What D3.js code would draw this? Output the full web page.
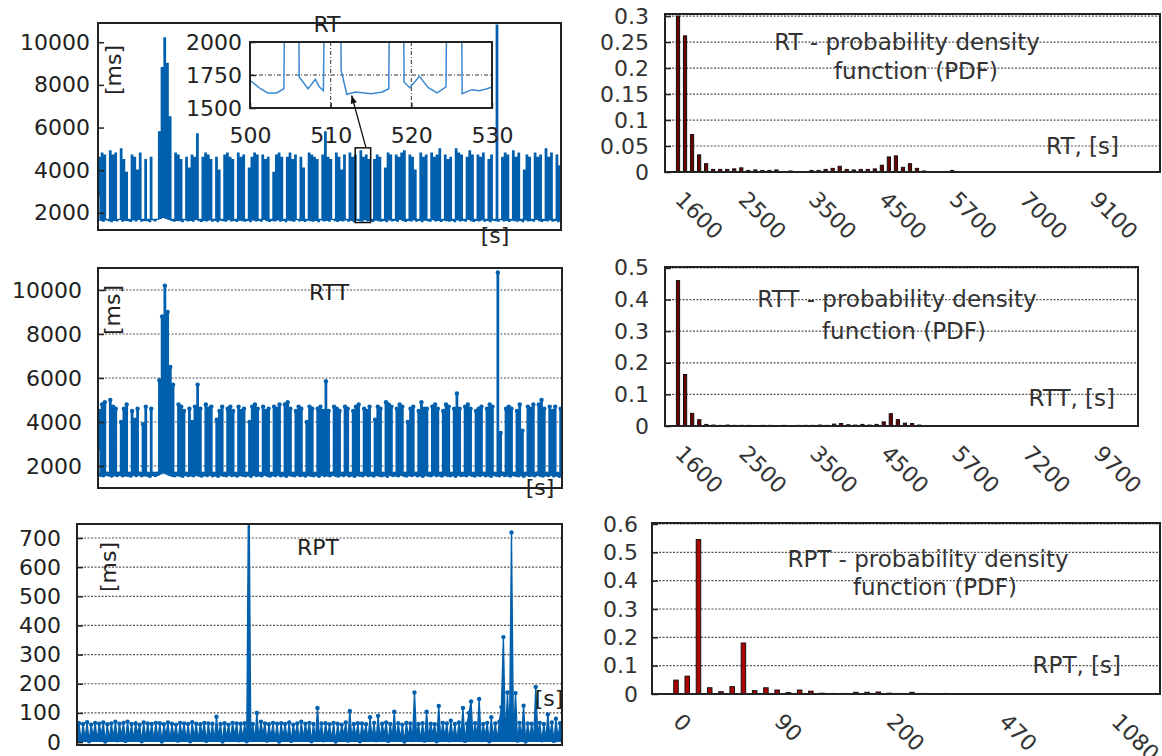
<!DOCTYPE html>
<html>
<head>
<meta charset="utf-8">
<script src="https://cdn.jsdelivr.net/npm/d3@7"></script>
<style>
  body { margin: 0; background: #fff; }
</style>
</head>
<body>
<svg id="chart" width="1162" height="756"></svg>
<script>
// ---- data ----
var seriesSeconds = 900;

// RT: one peak per spike, troughs between them (one more trough than peaks)
var rtPeak = [
  4600, 4800, 4700, 1700, 4900, 4700, 4800, 1700, 5000, 4500,
  3900, 1700, 4700, 4600, 4000, 4800, 1700, 4500, 1700, 4600,
  1700, 1700, 5800, 8800, 10200, 9000, 6500, 1700, 4800, 4700,
  4500, 1700, 4600, 4100, 4700, 4600, 5700, 1700, 4600, 4800,
  4700, 4500, 1700, 4600, 4000, 1700, 4700, 4800, 4600, 4500,
  1700, 4800, 4600, 4700, 1700, 4100, 4600, 4800, 4700, 1700,
  4700, 4500, 4600, 1700, 3900, 4700, 4800, 4600, 1700, 4600,
  4800, 4500, 4700, 1700, 4600, 4100, 1700, 4800, 4700, 4600,
  4500, 1700, 4700, 5800, 4600, 4500, 1700, 4800, 4600, 4000,
  4700, 1700, 4800, 4600, 4700, 1700, 4900, 4600, 4700, 4500,
  1700, 4500, 4700, 4600, 1700, 4100, 4800, 4700, 1700, 4700,
  4600, 4800, 4900, 1700, 4700, 4600, 4000, 1700, 4800, 4600,
  4700, 1700, 4800, 4600, 4700, 5000, 1700, 4700, 4500, 4600,
  1700, 5000, 4800, 4700, 1700, 4600, 4900, 4700, 1700, 4700,
  4600, 4800, 1700, 4500, 4700, 1700, 10800, 1700, 4600, 4800,
  4700, 1700, 4900, 4600, 4800, 1700, 4000, 4700, 4600, 1700,
  4800, 4600, 4700, 1700, 5000, 4600, 4800, 1700, 4700, 4200
];
var rtTrough = [
  2800, 1650, 1620, 1680, 1640, 1600, 1660, 1630, 1700, 1620,
  1650, 1640, 1610, 1680, 1630, 1700, 1620, 1660, 1640, 1600,
  1680, 1630, 1700, 1750, 1800, 1750, 1700, 1650, 1620, 1660,
  1640, 1600, 1680, 1630, 1650, 1620, 1700, 1640, 1610, 1660,
  1630, 1680, 1620, 1650, 1600, 1670, 1640, 1620, 1690, 1630,
  1650, 1610, 1670, 1640, 1620, 1660, 1600, 1680, 1630, 1650,
  1620, 1700, 1640, 1610, 1660, 1630, 1680, 1620, 1650, 1600,
  1670, 1640, 1620, 1690, 1630, 1650, 1610, 1670, 1640, 1620,
  1660, 1600, 1680, 1630, 1650, 1620, 1700, 1640, 1610, 1660,
  1630, 1680, 1620, 1650, 1600, 1670, 1640, 1620, 1690, 1630,
  1650, 1610, 1670, 1640, 1620, 1660, 1600, 1680, 1630, 1650,
  1620, 1700, 1640, 1610, 1660, 1630, 1680, 1620, 1650, 1600,
  1670, 1640, 1620, 1690, 1630, 1650, 1610, 1670, 1640, 1620,
  1660, 1600, 1680, 1630, 1650, 1620, 1700, 1640, 1610, 1660,
  1630, 1680, 1620, 1650, 1600, 1670, 1640, 1620, 1690, 1630,
  1650, 1610, 1670, 1640, 1620, 1660, 1600, 1680, 1630, 1650,
  1620, 1700, 1640, 1610, 1660, 1630, 1680, 1620, 1650, 1600,
  1650
];

var rttPeak = [
  4500, 4800, 4900, 1650, 5000, 4700, 4600, 1650, 4000, 4600,
  4800, 1650, 4500, 4100, 4600, 1650, 3900, 4700, 1650, 4600,
  1650, 1650, 5900, 8800, 10200, 9000, 6500, 5700, 1650, 4800,
  4700, 4500, 1650, 4600, 4000, 4700, 5700, 4600, 1650, 4800,
  4600, 4700, 1650, 4100, 4500, 4700, 1650, 4600, 4700, 4500,
  1650, 4700, 4500, 4600, 1650, 4000, 4700, 4800, 4600, 1650,
  4700, 4500, 4600, 1650, 4700, 4600, 4800, 1650, 4800, 4900,
  4600, 1650, 4500, 4700, 4600, 1650, 4000, 4700, 4600, 1650,
  4600, 4700, 4500, 5850, 4500, 1650, 4700, 4600, 4500, 1650,
  4700, 4600, 1650, 4500, 4700, 4800, 1650, 4600, 4500, 4700,
  1650, 4100, 4700, 4600, 1650, 4900, 4800, 4700, 1650, 4600,
  4800, 4700, 1650, 4000, 4600, 4700, 1650, 4500, 4900, 4600,
  4600, 1650, 4700, 4800, 4600, 1650, 4500, 4800, 4700, 1650,
  4600, 5300, 4600, 1650, 4700, 4800, 4600, 1650, 4500, 4600,
  4700, 1650, 4600, 4800, 4700, 1650, 10800, 3500, 1650, 4600,
  4700, 4600, 1650, 4500, 4800, 3600, 1650, 4700, 4600, 4800,
  1650, 4800, 5000, 4600, 1650, 4700, 4500, 4700, 1650, 4600
];
var rttTrough = [
  2800, 1600, 1580, 1640, 1610, 1570, 1620, 1590, 1650, 1580,
  1610, 1600, 1570, 1640, 1590, 1650, 1580, 1620, 1600, 1560,
  1640, 1590, 1650, 1700, 1750, 1700, 1650, 1600, 1580, 1620,
  1600, 1560, 1640, 1590, 1610, 1580, 1650, 1600, 1570, 1620,
  1590, 1640, 1580, 1610, 1560, 1630, 1600, 1580, 1650, 1590,
  1610, 1570, 1630, 1600, 1580, 1620, 1560, 1640, 1590, 1610,
  1580, 1650, 1600, 1570, 1620, 1590, 1640, 1580, 1610, 1560,
  1630, 1600, 1580, 1650, 1590, 1610, 1570, 1630, 1600, 1580,
  1620, 1560, 1640, 1590, 1610, 1580, 1650, 1600, 1570, 1620,
  1590, 1640, 1580, 1610, 1560, 1630, 1600, 1580, 1650, 1590,
  1610, 1570, 1630, 1600, 1580, 1620, 1560, 1640, 1590, 1610,
  1580, 1650, 1600, 1570, 1620, 1590, 1640, 1580, 1610, 1560,
  1630, 1600, 1580, 1650, 1590, 1610, 1570, 1630, 1600, 1580,
  1620, 1560, 1640, 1590, 1610, 1580, 1650, 1600, 1570, 1620,
  1590, 1640, 1580, 1610, 1560, 1630, 1600, 1580, 1650, 1590,
  1610, 1570, 1630, 1600, 1580, 1620, 1560, 1640, 1590, 1610,
  1580, 1650, 1600, 1570, 1620, 1590, 1640, 1580, 1610, 1560,
  1700
];

var rptPeak = [
  65, 62, 68, 60, 66, 63, 67, 61, 64, 70,
  63, 66, 70, 62, 65, 60, 67, 64, 62, 66,
  65, 61, 67, 63, 60, 66, 64, 62, 68, 63,
  61, 66, 64, 63, 87, 62, 65, 60, 66, 64,
  63, 65, 1000, 62, 100, 70, 64, 61, 66, 63,
  65, 62, 67, 60, 64, 70, 63, 66, 62, 117,
  64, 65, 61, 66, 63, 60, 67, 107, 62, 65,
  64, 61, 85, 66, 90, 63, 67, 62, 104, 65,
  60, 66, 64, 170, 62, 65, 104, 63, 61, 124,
  66, 64, 73, 62, 67, 117, 63, 139, 65, 148,
  62, 66, 85, 64, 70, 360, 170, 719, 168, 66,
  125, 64, 63, 189, 66, 62, 95, 67, 80, 65
];
var rptTrough = [
  20, 5, 12, 3, 18, 8, 25, 2, 10, 15,
  6, 22, 4, 14, 9, 28, 3, 11, 19, 7,
  13, 2, 24, 8, 16, 5, 21, 10, 3, 17,
  9, 26, 4, 12, 7, 19, 2, 15, 11, 23,
  6, 14, 3, 20, 8, 12, 27, 5, 16, 9,
  2, 18, 11, 4, 22, 7, 13, 25, 3, 10,
  16, 6, 20, 9, 2, 14, 24, 5, 11, 18,
  3, 21, 8, 15, 6, 12, 26, 4, 17, 9,
  13, 2, 19, 7, 23, 10, 5, 16, 28, 3,
  12, 20, 6, 14, 9, 25, 4, 100, 11, 18,
  7, 22, 3, 15, 10, 120, 8, 24, 13, 5,
  19, 2, 16, 9, 27, 6, 12, 21, 4, 14,
  60
];

// zoomed RT window 500..530 s
var insetTime = [500, 501.3, 502.2, 503.3, 504.2, 504.6, 505.8, 506.1, 507.2, 508.1,
                 508.6, 509.1, 509.6, 511.0, 511.3, 512.0, 513.1, 515.0, 516.4, 517.2,
                 517.6, 518.8, 519.1, 519.8, 521.0, 522.1, 523.2, 524.3, 524.7, 526.0,
                 526.3, 527.5, 528.4, 529.3, 530.0];
var insetRt = [1710, 1646, 1614, 1614, 1646, 4600, 4500, 1735, 1646, 1717,
               1660, 1630, 4700, 4600, 1785, 1604, 1621, 1608, 1621, 1646,
               4600, 4700, 1697, 1654, 1740, 1654, 1614, 1660, 4500, 4600,
               1608, 1639, 1630, 1644, 1660];

// probability density per bin
var rtPdf = [
  0.300, 0.262, 0.072, 0.033, 0.016, 0.005, 0.005, 0.005, 0.006, 0.008,
  0.003, 0.004, 0.003, 0.003, 0.004, 0.001, 0.002, 0.001, 0.001, 0.003,
  0.003, 0.005, 0.007, 0.011, 0.005, 0.004, 0.005, 0.005, 0.006, 0.013,
  0.029, 0.031, 0.009, 0.016, 0.007, 0.002, 0.001, 0.001, 0.001, 0.003,
  0.001, 0.001, 0, 0.001, 0, 0, 0.001, 0, 0, 0,
  0, 0.001, 0, 0, 0, 0, 0, 0.001, 0, 0,
  0, 0, 0, 0, 0, 0, 0, 0.001
];
var rttPdf = [
  0.460, 0.163, 0.040, 0.020, 0.005, 0.003, 0.002, 0.003, 0.002, 0.002,
  0.002, 0.001, 0.002, 0.002, 0.001, 0.002, 0.001, 0.002, 0.002, 0.002,
  0.003, 0.002, 0.006, 0.008, 0.004, 0.003, 0.005, 0.003, 0.005, 0.013,
  0.039, 0.020, 0.009, 0.008, 0.003, 0.001, 0.001, 0.001, 0, 0.001,
  0, 0, 0.001, 0, 0, 0, 0, 0, 0, 0,
  0, 0, 0, 0, 0, 0, 0, 0, 0, 0,
  0, 0, 0, 0, 0
];
var rptPdf = [
  0.049, 0.063, 0.545, 0.022, 0.008, 0.026, 0.180, 0.012, 0.022, 0.014,
  0.005, 0.014, 0.010, 0.003, 0.002, 0.002, 0.006, 0.006, 0.007, 0.003,
  0.002, 0.006, 0.002, 0.001, 0.002, 0.001, 0.001, 0.001, 0.001, 0,
  0.001, 0, 0, 0, 0, 0, 0, 0, 0, 0,
  0, 0, 0
];

var pdfTickBins = [0, 9, 19, 29, 39, 49, 59];
var rtPdfLabels = ["1600", "2500", "3500", "4500", "5700", "7000", "9100"];
var rttPdfLabels = ["1600", "2500", "3500", "4500", "5700", "7200", "9700"];
var rptPdfTickBins = [0, 9, 19, 29, 39];
var rptPdfLabels = ["0", "90", "200", "470", "1080"];

var msTicks = [2000, 4000, 6000, 8000, 10000];
var rptTicks = [0, 100, 200, 300, 400, 500, 600, 700];
var rtPdfTicks = [0, 0.05, 0.1, 0.15, 0.2, 0.25, 0.3];
var rttPdfTicks = [0, 0.1, 0.2, 0.3, 0.4, 0.5];
var rptPdfTicks = [0, 0.1, 0.2, 0.3, 0.4, 0.5, 0.6];
var insetTicksY = [1500, 1750, 2000];
var insetTicksX = [500, 510, 520, 530];

// ---- drawing ----
var svg = d3.select("#chart");
var font = "DejaVu Sans";
var blue = "#0060ad";
var ink = "#222";

svg.append("defs").append("marker")
    .attr("id", "arrowHead")
    .attr("viewBox", "0 0 10 10")
    .attr("refX", 10).attr("refY", 5)
    .attr("markerWidth", 9).attr("markerHeight", 8)
    .attr("markerUnits", "userSpaceOnUse")
    .attr("orient", "auto")
  .append("path")
    .attr("d", "M0,1L10,5L0,9Z")
    .attr("fill", "#111");

var interleave = function(troughs, peaks) {
    var out = [];
    peaks.forEach(function(p, i) { out.push(troughs[i], p); });
    out.push(troughs[peaks.length]);
    return out;
};

var addText = function(g, str, x, y, anchor, size, color) {
    return g.append("text")
        .attr("x", x).attr("y", y)
        .attr("text-anchor", anchor || "middle")
        .attr("font-family", font)
        .attr("font-size", size || 22)
        .attr("fill", color || ink)
        .text(str);
};

var leftAxis = function(g, scale, ticks, x, pad, fmt, color) {
    var axis = d3.axisLeft(scale)
        .tickValues(ticks)
        .tickSizeInner(-6)
        .tickSizeOuter(0)
        .tickPadding(pad)
        .tickFormat(fmt);
    var ag = g.append("g").attr("transform", "translate(" + x + ",0)").call(axis);
    ag.select(".domain").remove();
    ag.selectAll("line").attr("stroke", ink).attr("stroke-width", 1.5);
    ag.selectAll("text")
        .attr("font-family", font)
        .attr("font-size", 22)
        .attr("fill", color || ink);
};

var drawBox = function(g, l, t, r, b) {
    g.append("rect")
        .attr("x", l).attr("y", t)
        .attr("width", r - l).attr("height", b - t)
        .attr("fill", "none")
        .attr("stroke", ink)
        .attr("stroke-width", 2);
};

var hGrid = function(g, scale, ticks, l, r) {
    g.selectAll(null)
        .data(ticks.filter(function(d) { return d !== 0; }))
      .enter().append("line")
        .attr("x1", l).attr("x2", r)
        .attr("y1", function(d) { return scale(d); })
        .attr("y2", function(d) { return scale(d); })
        .attr("stroke", "#555")
        .attr("stroke-width", 1.2)
        .attr("stroke-dasharray", "2,1.5");
};

var timePanel = function(cfg) {
    var values = interleave(cfg.troughs, cfg.peaks);
    var step = seriesSeconds / (values.length - 1);
    var pts = values.map(function(v, i) { return [i * step, v]; });

    var x = d3.scaleLinear().domain([0, seriesSeconds]).range([cfg.left, cfg.right]);
    var y = d3.scaleLinear().domain(cfg.yDomain).range([cfg.bottom, cfg.top]);
    var g = svg.append("g");

    g.append("clipPath").attr("id", "clip-" + cfg.name)
      .append("rect")
        .attr("x", cfg.left).attr("y", cfg.top)
        .attr("width", cfg.right - cfg.left)
        .attr("height", cfg.bottom - cfg.top);

    if (cfg.grid) hGrid(g, y, cfg.ticks, cfg.left, cfg.right);

    var plot = g.append("g").attr("clip-path", "url(#clip-" + cfg.name + ")");
    if (cfg.floor !== undefined) {
        // dense samples merge into a solid band down to the floor
        var area = d3.area()
            .curve(cfg.curve)
            .x(function(d) { return x(d[0]); })
            .y0(y(cfg.floor))
            .y1(function(d) { return y(d[1]); });
        plot.append("path").datum(pts).attr("d", area).attr("fill", blue);
    }
    var line = d3.line()
        .curve(cfg.curve)
        .x(function(d) { return x(d[0]); })
        .y(function(d) { return y(d[1]); });
    plot.append("path")
        .datum(pts)
        .attr("d", line)
        .attr("fill", "none")
        .attr("stroke", blue)
        .attr("stroke-width", cfg.width);
    if (cfg.dots) {
        plot.selectAll("circle")
            .data(pts)
          .enter().append("circle")
            .attr("cx", function(d) { return x(d[0]); })
            .attr("cy", function(d) { return y(d[1]); })
            .attr("r", 2.2)
            .attr("fill", blue);
    }

    leftAxis(g, y, cfg.ticks, cfg.left, cfg.pad, d3.format("d"));
    drawBox(g, cfg.left, cfg.top, cfg.right, cfg.bottom);

    addText(g, cfg.title, cfg.titleX, cfg.titleY);
    addText(g, "[s]", cfg.sX, cfg.sY);
    addText(g, "[ms]", 0, 0)
        .attr("transform", "translate(" + cfg.msX + "," + cfg.msY + ") rotate(-90)")
        .attr("dy", "0.35em");

    return { x: x, y: y, g: g };
};

var pdfPanel = function(cfg) {
    var n = cfg.values.length;
    var x = d3.scaleLinear().domain([0, n - 1]).range([cfg.firstBar, cfg.lastBar]);
    var y = d3.scaleLinear().domain(cfg.yDomain).range([cfg.bottom, cfg.top]);
    var g = svg.append("g");

    hGrid(g, y, cfg.ticks, cfg.left, cfg.right);

    g.selectAll("rect.bar")
        .data(cfg.values)
      .enter().append("rect")
        .attr("class", "bar")
        .attr("x", function(d, i) { return x(i) - cfg.barWidth / 2; })
        .attr("y", function(d) { return y(d); })
        .attr("width", cfg.barWidth)
        .attr("height", function(d) { return y(0) - y(d); })
        .attr("fill", cfg.fill)
        .attr("stroke", "#111")
        .attr("stroke-width", 1);

    leftAxis(g, y, cfg.ticks, cfg.left, cfg.pad, d3.format("~g"), "#333");
    drawBox(g, cfg.left, cfg.top, cfg.right, cfg.bottom);

    cfg.tickBins.forEach(function(b, i) {
        var tx = x(b) - 4, ty = cfg.bottom + 29;
        addText(g, cfg.tickLabels[i], tx, ty, "start", 22, "#333")
            .attr("transform", "rotate(45," + tx + "," + ty + ")");
    });

    addText(g, cfg.title + " - probability density", cfg.t1X, cfg.t1Y, "middle", 23, "#333");
    addText(g, "function (PDF)", cfg.t2X, cfg.t2Y, "middle", 23, "#333");
    addText(g, cfg.title + ", [s]", cfg.unitX, cfg.unitY, "end", 23, "#333");
};

// RT time series with zoom inset
var rt = timePanel({
    name: "rt", peaks: rtPeak, troughs: rtTrough, width: 1.4, curve: d3.curveStep,
    left: 98, right: 561, top: 23, bottom: 230,
    yDomain: [1200, 10900], ticks: msTicks, pad: 8, grid: false, dots: false,
    title: "RT", titleX: 327, titleY: 32,
    sX: 495, sY: 243, msX: 113, msY: 70
});

(function() {
    var l = 250, r = 492, t = 42, b = 108;
    var g = svg.append("g");
    var x = d3.scaleLinear().domain([500, 530]).range([l, r]);
    var y = d3.scaleLinear().domain([1500, 2000]).range([b, t]);

    g.append("rect").attr("x", l).attr("y", t).attr("width", r - l).attr("height", b - t).attr("fill", "#fff");
    g.append("clipPath").attr("id", "clip-inset")
      .append("rect").attr("x", l).attr("y", t).attr("width", r - l).attr("height", b - t);

    g.append("line")
        .attr("x1", l).attr("x2", r).attr("y1", y(1750)).attr("y2", y(1750))
        .attr("stroke", "#333").attr("stroke-dasharray", "4,2,1,2");
    g.selectAll(null).data([510, 520]).enter().append("line")
        .attr("x1", function(d) { return x(d); }).attr("x2", function(d) { return x(d); })
        .attr("y1", t).attr("y2", b)
        .attr("stroke", "#333").attr("stroke-dasharray", "4,2,1,2");

    var line = d3.line()
        .x(function(d, i) { return x(insetTime[i]); })
        .y(function(d) { return y(d); });
    g.append("g").attr("clip-path", "url(#clip-inset)")
      .append("path")
        .datum(insetRt)
        .attr("d", line)
        .attr("fill", "none")
        .attr("stroke", "#3a88cf")
        .attr("stroke-width", 1.5);

    leftAxis(g, y, insetTicksY, l, 8, d3.format("d"));
    var bx = d3.axisBottom(x).tickValues(insetTicksX).tickSizeInner(-5).tickSizeOuter(0)
        .tickPadding(19).tickFormat(d3.format("d"));
    var bg = g.append("g").attr("transform", "translate(0," + b + ")").call(bx);
    bg.select(".domain").remove();
    bg.selectAll("line").attr("stroke", ink).attr("stroke-width", 1.5);
    bg.selectAll("text").attr("font-family", font).attr("font-size", 22).attr("fill", ink);

    drawBox(g, l, t, r, b);

    // window marker on the main plot and arrow pointing into the inset
    g.append("rect")
        .attr("x", rt.x(500)).attr("y", rt.y(5050))
        .attr("width", rt.x(530) - rt.x(500))
        .attr("height", rt.y(1550) - rt.y(5050))
        .attr("fill", "none").attr("stroke", "#111").attr("stroke-width", 1.5);
    g.append("line")
        .attr("x1", rt.x(521)).attr("y1", rt.y(5050))
        .attr("x2", x(512.6)).attr("y2", y(1595))
        .attr("stroke", "#111").attr("stroke-width", 1.3)
        .attr("marker-end", "url(#arrowHead)");
})();

timePanel({
    name: "rtt", peaks: rttPeak, troughs: rttTrough, width: 1.4, curve: d3.curveStep,
    left: 98, right: 562, top: 268, bottom: 488,
    yDomain: [1000, 11000], ticks: msTicks, pad: 16, grid: true, dots: true,
    title: "RTT", titleX: 329, titleY: 300,
    sX: 540, sY: 495, msX: 112, msY: 310
});

timePanel({
    name: "rpt", peaks: rptPeak, troughs: rptTrough, width: 1.3, curve: d3.curveLinear,
    floor: 0,
    left: 77, right: 562, top: 524, bottom: 745,
    yDomain: [-10, 748], ticks: rptTicks, pad: 16, grid: true, dots: true,
    title: "RPT", titleX: 318, titleY: 555,
    sX: 549, sY: 706, msX: 108, msY: 567
});

pdfPanel({
    values: rtPdf, title: "RT", fill: "#6e0000",
    left: 665, right: 1160, top: 14, bottom: 172,
    firstBar: 678, lastBar: 1149, barWidth: 3.2,
    yDomain: [0, 0.304], ticks: rtPdfTicks, pad: 16,
    tickBins: pdfTickBins, tickLabels: rtPdfLabels,
    t1X: 907, t1Y: 50, t2X: 916, t2Y: 79, unitX: 1119, unitY: 154
});

pdfPanel({
    values: rttPdf, title: "RTT", fill: "#6e0000",
    left: 665, right: 1138, top: 267, bottom: 426,
    firstBar: 678, lastBar: 1132, barWidth: 3.2,
    yDomain: [0, 0.503], ticks: rttPdfTicks, pad: 16,
    tickBins: pdfTickBins, tickLabels: rttPdfLabels,
    t1X: 897, t1Y: 307, t2X: 904, t2Y: 339, unitX: 1115, unitY: 406
});

pdfPanel({
    values: rptPdf, title: "RPT", fill: "#b00000",
    left: 652, right: 1160, top: 523, bottom: 694,
    firstBar: 676, lastBar: 1148, barWidth: 4.5,
    yDomain: [0, 0.6035], ticks: rptPdfTicks, pad: 14,
    tickBins: rptPdfTickBins, tickLabels: rptPdfLabels,
    t1X: 928, t1Y: 567, t2X: 935, t2Y: 595, unitX: 1121, unitY: 673
});
</script>
</body>
</html>
